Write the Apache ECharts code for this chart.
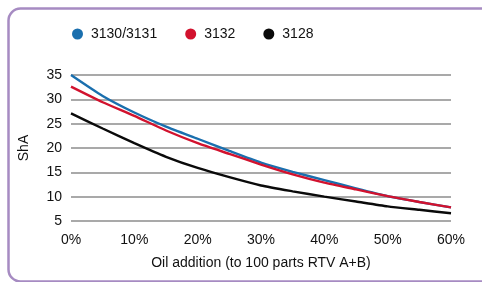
<!DOCTYPE html>
<html>
<head>
<meta charset="utf-8">
<script src="https://cdn.jsdelivr.net/npm/echarts@6/dist/echarts.min.js"></script>
<style>html,body{margin:0;padding:0;background:#fff}#c{width:482px;height:282px}</style>
</head>
<body>
<div id="c"></div>
<script>
const oilAddition = [0, 5, 10, 15, 20, 25, 30, 35, 40, 45, 50, 55, 60];
const s3130 = [35, 30.7, 27.3, 24.4, 21.9, 19.4, 17.0, 15.1, 13.4, 11.7, 10.1, 8.9, 7.8];
const s3132 = [32.6, 29.4, 26.6, 23.6, 21.0, 18.8, 16.6, 14.6, 12.9, 11.5, 10.1, 8.9, 7.8];
const s3128 = [27.1, 24.0, 21.0, 18.2, 15.9, 14.0, 12.3, 11.1, 10.0, 9.0, 8.0, 7.3, 6.6];
const seriesNames = ['3130/3131', '3132', '3128'];
const colors = ['#1a6fae', '#d2122e', '#0a0a0a'];
const yTicks = [5, 10, 15, 20, 25, 30, 35];
const xTicks = [0, 10, 20, 30, 40, 50, 60];

const pairs = arr => oilAddition.map((x, i) => [x, arr[i]]);
const font = 'Liberation Sans, Arial, Helvetica, sans-serif';
const chart = echarts.init(document.getElementById('c'), null, {renderer: 'canvas'});
chart.setOption({
  animation: false,
  color: colors,
  graphic: [{
    type: 'rect', left: 6, top: 6,
    shape: {width: 490, height: 273, r: 12},
    style: {fill: 'none', stroke: '#a68bc2', lineWidth: 2.5}
  }],
  legend: {
    top: 22, left: 67,
    icon: 'circle', itemWidth: 11, itemHeight: 11, itemGap: 28,
    textStyle: {fontFamily: font, fontSize: 14, color: '#111', padding: [0, 0, 0, 3]},
    data: seriesNames
  },
  grid: {left: 71, right: 31, top: 75, bottom: 61},
  xAxis: {
    type: 'value', min: 0, max: 60, interval: 10,
    name: 'Oil addition (to 100 parts RTV A+B)',
    nameLocation: 'middle', nameGap: 35,
    nameTextStyle: {fontFamily: font, fontSize: 14, color: '#111'},
    axisLine: {show: false}, axisTick: {show: false},
    splitLine: {show: false},
    axisLabel: {margin: 12, fontFamily: font, fontSize: 14, color: '#111', formatter: v => xTicks.includes(v) ? v + '%' : ''}
  },
  yAxis: {
    type: 'value', min: 5, max: 35, interval: 5,
    name: 'ShA', nameLocation: 'middle', nameGap: 40, nameRotate: 90,
    nameTextStyle: {fontFamily: font, fontSize: 14, color: '#111'},
    axisLine: {show: false}, axisTick: {show: false},
    splitLine: {lineStyle: {color: '#8c8c8c', width: 1.5}},
    axisLabel: {margin: 9, fontFamily: font, fontSize: 14, color: '#111', formatter: v => yTicks.includes(v) ? String(v) : ''}
  },
  series: [
    {name: seriesNames[0], type: 'line', data: pairs(s3130), showSymbol: false, smooth: 0.2, lineStyle: {width: 2.4}, z: 3},
    {name: seriesNames[1], type: 'line', data: pairs(s3132), showSymbol: false, smooth: 0.2, lineStyle: {width: 2.4}, z: 4},
    {name: seriesNames[2], type: 'line', data: pairs(s3128), showSymbol: false, smooth: 0.2, lineStyle: {width: 2.4}, z: 2}
  ]
});
</script>
</body>
</html>
